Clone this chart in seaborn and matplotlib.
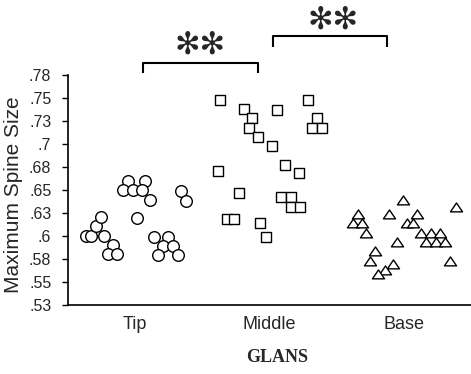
import numpy as np
import pandas as pd
import matplotlib
matplotlib.use("Agg")
import matplotlib.pyplot as plt
from matplotlib.path import Path
import seaborn as sns

# ---------------- data ----------------
categories = ["Tip", "Middle", "Base"]

tip_values = [0.660, 0.660, 0.650, 0.650, 0.650, 0.639, 0.649, 0.638, 0.620,
              0.600, 0.600, 0.600, 0.611, 0.621, 0.590, 0.580, 0.580,
              0.599, 0.599, 0.589, 0.589, 0.579, 0.579]
tip_spread = [-0.054, 0.073, -0.091, -0.016, 0.051, 0.110, 0.341, 0.378, 0.013,
              -0.366, -0.329, -0.232, -0.292, -0.255, -0.165, -0.203, -0.136,
              0.140, 0.244, 0.207, 0.281, 0.170, 0.319]

middle_values = [0.748, 0.738, 0.737, 0.748, 0.728, 0.717, 0.708, 0.728, 0.717,
                 0.717, 0.698, 0.677, 0.668, 0.671, 0.647, 0.642, 0.642, 0.632,
                 0.632, 0.618, 0.618, 0.614, 0.599]
middle_spread = [-0.369, -0.188, 0.058, 0.289, -0.127, -0.151, -0.088, 0.357, 0.320,
                 0.391, 0.021, 0.119, 0.216, -0.383, -0.229, 0.087, 0.159, 0.160,
                 0.227, -0.315, -0.266, -0.071, -0.026]

base_values = [0.639, 0.632, 0.624, 0.624, 0.624, 0.614, 0.614, 0.614, 0.614,
               0.603, 0.603, 0.603, 0.603, 0.593, 0.593, 0.593, 0.593, 0.584,
               0.573, 0.570, 0.563, 0.559, 0.573]
base_spread = [-0.006, 0.389, -0.341, -0.110, 0.098, -0.380, -0.313, 0.022, 0.071,
               -0.284, 0.128, 0.203, 0.270, 0.168, 0.236, 0.305, -0.051, -0.211,
               -0.255, -0.084, -0.140, -0.192, 0.342]

ytick_values = [0.525, 0.55, 0.575, 0.6, 0.625, 0.65, 0.675, 0.7, 0.725, 0.75, 0.775]
ytick_labels = [".53", ".55", ".58", ".6", ".63", ".65", ".68", ".7", ".73", ".75", ".78"]

y_label = "Maximum Spine Size"
x_label = "GLANS"
signif = "\u273B\u273B"

# ---------------- table ----------------
frames = []
for i, (name, vals, spr) in enumerate([("Tip", tip_values, tip_spread),
                                        ("Middle", middle_values, middle_spread),
                                        ("Base", base_values, base_spread)]):
    frames.append(pd.DataFrame({"region": name, "value": vals,
                                "pos": np.array(spr) + i}))
df = pd.concat(frames, ignore_index=True)

# ---------------- figure ----------------
sns.set_style("white")
plt.rcParams["font.family"] = ["Liberation Sans", "DejaVu Sans"]

fig = plt.figure(figsize=(4.71, 3.74), dpi=100)
ax = fig.add_axes([68 / 471, 69 / 374, 403 / 471, 230 / 374])

tri = Path([(-1, -0.72), (1, -0.72), (0, 0.75), (-1, -0.72)],
           [Path.MOVETO, Path.LINETO, Path.LINETO, Path.CLOSEPOLY])
marker_map = {"Tip": ("o", 70), "Middle": ("s", 52), "Base": (tri, 76)}

for name in categories:
    mk, sz = marker_map[name]
    sns.scatterplot(data=df[df["region"] == name], x="pos", y="value",
                    marker=mk, s=sz, facecolor="white", edgecolor="black",
                    linewidth=1.0, ax=ax, legend=False, zorder=3)

ax.set_xlim(-0.5, 2.5)
ax.set_ylim(0.525, 0.775)

ax.set_yticks(ytick_values)
ax.set_yticklabels(ytick_labels, fontsize=11.5)
ax.set_xticks(range(len(categories)))
ax.set_xticklabels(categories, fontsize=13)
ax.set_xticks([0.5, 1.5], minor=True)
ax.tick_params(axis="x", which="major", length=0, pad=8)
ax.tick_params(axis="x", which="minor", length=7, width=1.4, direction="out",
               color="black")
ax.tick_params(axis="y", which="major", length=4, width=1.0, direction="out",
               pad=8, color="black", left=True)

for side in ["top", "right"]:
    ax.spines[side].set_visible(False)
for side in ["left", "bottom"]:
    ax.spines[side].set_color("black")
    ax.spines[side].set_linewidth(1.2)

ax.set_xlabel("")
ax.set_ylabel(y_label, fontsize=15)
ax.yaxis.set_label_coords(-0.112, 0.48)

fig.text(277 / 471, (374 - 358) / 374, x_label, fontsize=13, fontweight="bold",
         family=["Liberation Serif", "DejaVu Serif"], ha="center", va="center")

# significance brackets
def bracket(x0, x1, ytop, ylow, label_x, label_y):
    ax.plot([x0, x0, x1, x1], [ylow, ytop, ytop, ylow], color="black",
            lw=1.5, clip_on=False, solid_capstyle="butt")
    ax.text(label_x, label_y, signif, ha="center", va="center", fontsize=22,
            family=["DejaVu Sans"], fontweight="bold", clip_on=False)

bracket(0.061, 0.917, 0.7877, 0.7768, 0.483, 0.8076)
bracket(1.024, 1.873, 0.8174, 0.8058, 1.475, 0.8348)

fig.savefig("out.png", dpi=100)
